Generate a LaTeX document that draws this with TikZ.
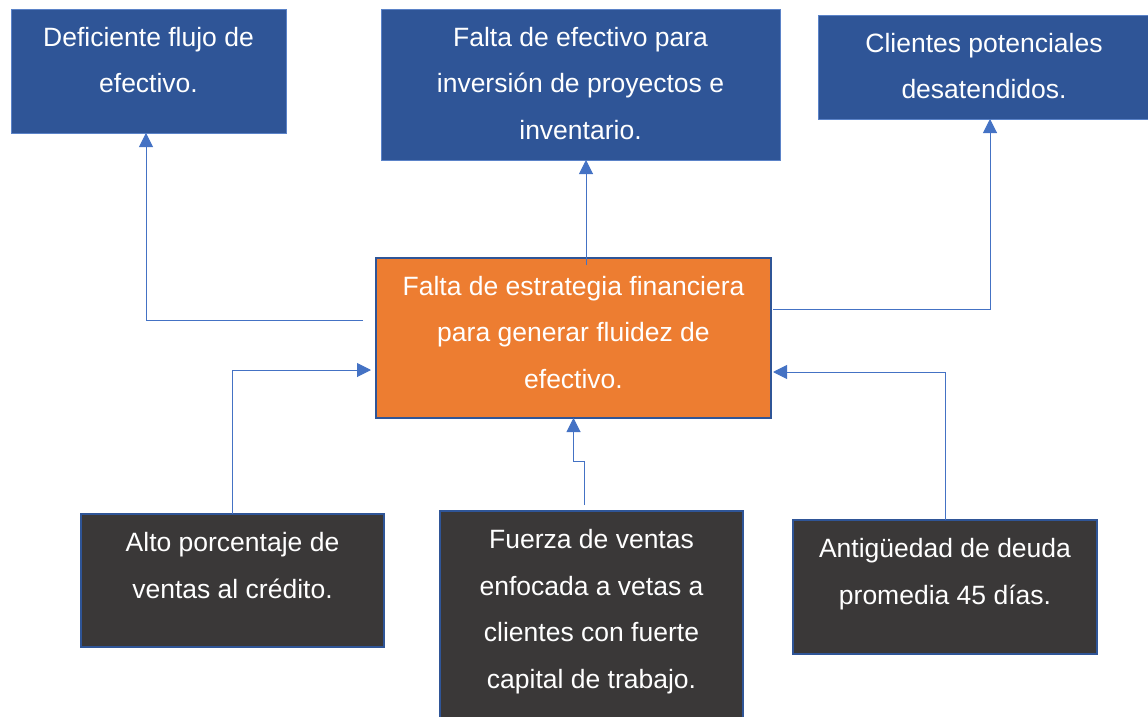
\documentclass[tikz,border=0pt]{standalone}
\usepackage{fontspec}
\setmainfont{Liberation Sans}
\usetikzlibrary{arrows.meta}
\definecolor{topblue}{HTML}{2F5597}
\definecolor{topedge}{HTML}{5B83C8}
\definecolor{midorange}{HTML}{ED7D31}
\definecolor{darkgray}{HTML}{3A3838}
\definecolor{edgeblue}{HTML}{2F5597}
\definecolor{linkblue}{HTML}{4472C4}
\tikzset{
  boxbase/.style={rectangle, inner sep=0pt, outer sep=0pt, anchor=north west},
  effectbox/.style={boxbase, fill=topblue, draw=topedge, line width=0.8pt},
  corebox/.style={boxbase, fill=midorange, draw=edgeblue, line width=2.6pt},
  causebox/.style={boxbase, fill=darkgray, draw=edgeblue, line width=2pt},
  txt/.style={anchor=north, inner sep=0pt, outer sep=0pt, align=center, text=white,
    font=\fontsize{26.5}{46.5}\selectfont},
  conn/.style={draw=linkblue, line width=1pt, -{Triangle[length=14pt,width=14pt]}},
}
\begin{document}
\begin{tikzpicture}[x=1pt,y=-1pt]
\useasboundingbox (0,0) rectangle (1148,717);
% effect boxes
\node[effectbox, minimum width=275pt, minimum height=124pt] (b1) at (11,9) {};
\node[effectbox, minimum width=399pt, minimum height=151pt] (b2) at (381,9) {};
\node[effectbox, minimum width=332pt, minimum height=104pt] (b3) at (818,15) {};
% core box
\node[corebox, minimum width=395pt, minimum height=160pt] (c) at (376,258) {};
% cause boxes
\node[causebox, minimum width=303pt, minimum height=133pt] (d1) at (81,514) {};
\node[causebox, minimum width=303pt, minimum height=220pt] (d2) at (440,511) {};
\node[causebox, minimum width=304pt, minimum height=134pt] (d3) at (793,520) {};
% texts
\node[txt] (t1) at ([yshift=-18.2pt]b1.north) {Deficiente flujo de\\efectivo.};
\node[txt] (t2) at ([yshift=-18.2pt]b2.north) {Falta de efectivo para\\inversión de proyectos e\\inventario.};
\node[txt] (t3) at ([yshift=-18.2pt]b3.north) {Clientes potenciales\\desatendidos.};
\node[txt] (tc) at ([yshift=-18.2pt]c.north) {Falta de estrategia financiera\\para generar fluidez de\\efectivo.};
\node[txt] (u1) at ([yshift=-18.6pt]d1.north) {Alto porcentaje de\\ventas al crédito.};
\node[txt] (u2) at ([yshift=-18.4pt]d2.north) {Fuerza de ventas\\enfocada a vetas a\\clientes con fuerte\\capital de trabajo.};
\node[txt] (u3) at ([yshift=-18.6pt]d3.north) {Antigüedad de deuda\\promedia 45 días.};
% connectors
\coordinate (cl) at ([xshift=-13pt,yshift=18pt]c.west);
\draw[conn] (cl) -| ([xshift=-2.5pt]b1.south);
\draw[conn] ([xshift=12.5pt,yshift=-7pt]c.north) -- ([xshift=5.5pt]b2.south);
\draw[conn] ([xshift=2pt,yshift=29pt]c.east) -| ([xshift=6pt]b3.south);
\draw[conn] (d1.north) |- ([xshift=-5pt,yshift=-32pt]c.west);
\draw[conn] ([xshift=-7.5pt,yshift=6pt]d2.north) -- ++(0pt,44pt) -| (c.south);
\draw[conn] (d3.north) |- ([xshift=2pt,yshift=-34pt]c.east);
\end{tikzpicture}
\end{document}
